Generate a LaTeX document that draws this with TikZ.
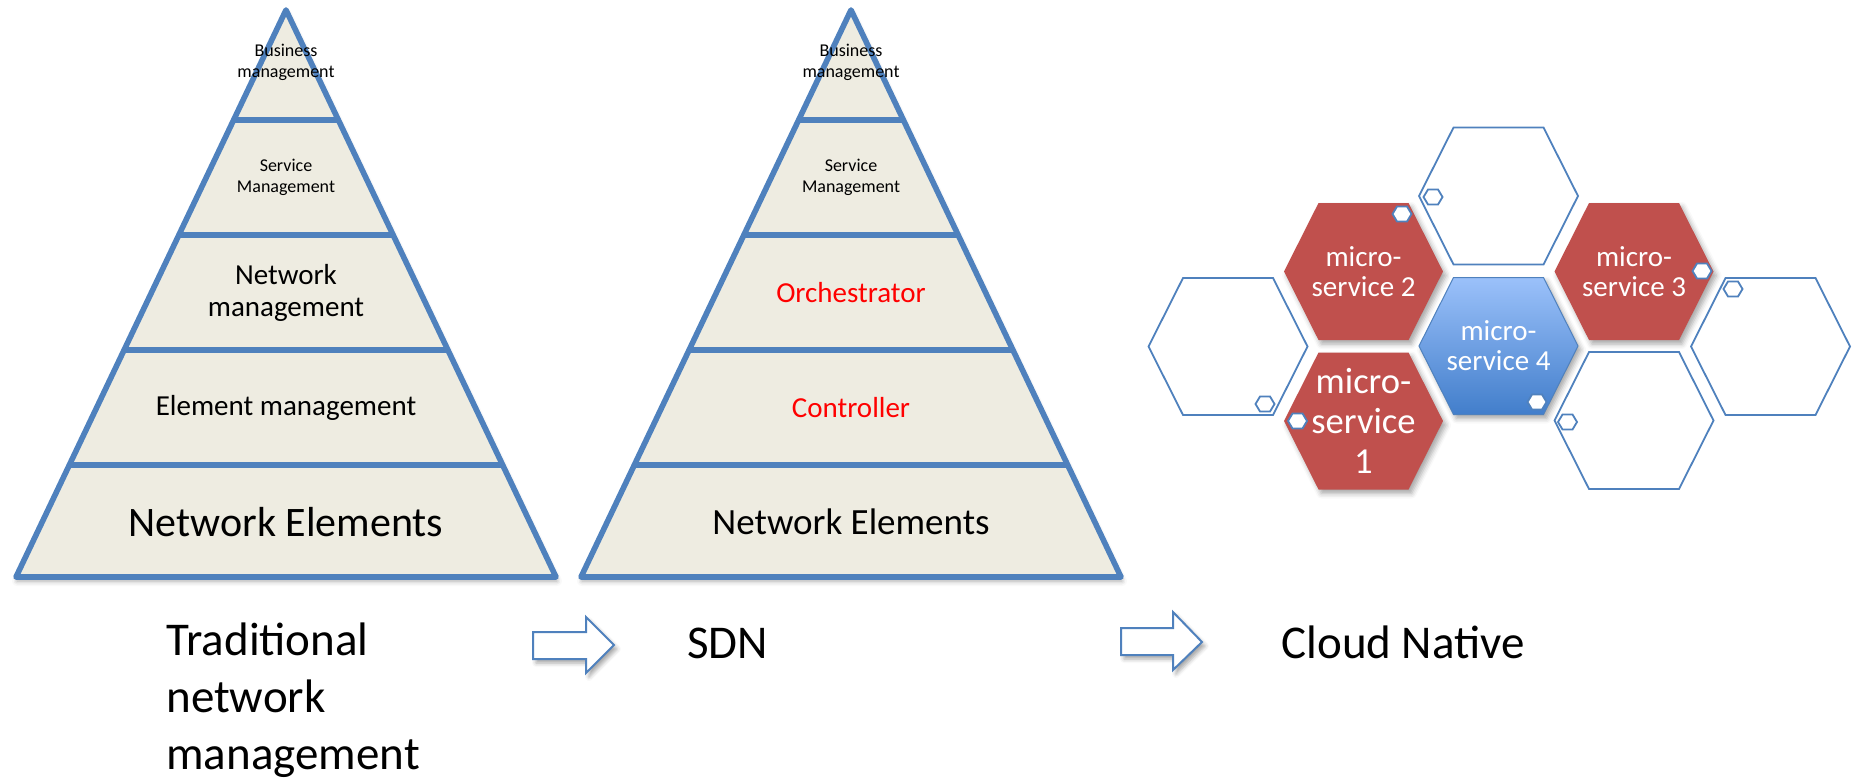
\documentclass[tikz,border=0pt]{standalone}
\usepackage{fontspec}
\setmainfont{Carlito}
\usetikzlibrary{shadows.blur}
\definecolor{pyrfill}{HTML}{EEECE1}
\definecolor{acc}{HTML}{4F81BD}
\definecolor{msred}{HTML}{C0504D}
\definecolor{mstop}{RGB}{155,193,250}
\definecolor{msbot}{RGB}{66,126,203}
\definecolor{txtred}{HTML}{FF0000}
\begin{document}
\begin{tikzpicture}[x=0.5pt,y=-0.5pt,
  pyr/.style={draw=acc,line width=2.8pt,fill=pyrfill,line join=round,
    blur shadow={shadow xshift=0.5pt,shadow yshift=-2pt,shadow blur radius=2.5pt,shadow opacity=35}},
  divider/.style={draw=acc,line width=2.8pt},
  lsmall/.style={font=\fontsize{9}{10.5}\selectfont,align=center,inner sep=0pt},
  lmid/.style={font=\fontsize{14.5}{16}\selectfont,align=center,inner sep=0pt},
  lred/.style={lmid,text=txtred},
  biglbl/.style={font=\fontsize{23.5}{28.5}\selectfont,inner sep=0pt},
  blockarrow/.style={draw=acc,line width=1pt,fill=white,line join=miter,
    blur shadow={shadow xshift=1.5pt,shadow yshift=-2pt,shadow blur radius=2pt,shadow opacity=35}},
  bighex/.style={insert path={++(-79.5,0) -- ++(34.5,-68.5) -- ++(90,0) -- ++(34.5,68.5) -- ++(-34.5,68.5) -- ++(-90,0) -- cycle}},
  smallhex/.style={insert path={++(-9.5,0) -- ++(4.5,-7.5) -- ++(10,0) -- ++(4.5,7.5) -- ++(-4.5,7.5) -- ++(-10,0) -- cycle}},
  outhex/.style={draw=acc,line width=0.9pt,fill=white},
  redhex/.style={fill=msred,
    blur shadow={shadow xshift=1.5pt,shadow yshift=-2pt,shadow blur radius=2.5pt,shadow opacity=35}},
  bluehex/.style={top color=mstop,bottom color=msbot,draw=acc,line width=0.5pt,
    blur shadow={shadow xshift=1.5pt,shadow yshift=-2pt,shadow blur radius=2.5pt,shadow opacity=35}},
  minihex/.style={draw=acc,line width=0.9pt,fill=white},
  mstxt/.style={text=white,font=\fontsize{14.5}{15}\selectfont,align=center,inner sep=0pt},
  mstxtbig/.style={text=white,font=\fontsize{18.3}{20}\selectfont,align=center,inner sep=0pt}
]
\useasboundingbox (0,0) rectangle (1856,778);

% ---------- Pyramid 1: traditional ----------
\path[pyr] (286,10) -- (556,577) -- (16,577) -- cycle;
\draw[divider] (233.6,120) -- (338.4,120);
\draw[divider] (178.9,235) -- (393.1,235);
\draw[divider] (124.1,350) -- (447.9,350);
\draw[divider] (69.3,465) -- (502.7,465);
\node[lsmall] (bm1) at (286,62.5) {Business\\management};
\node[lsmall] (sm1) at (286,177.5) {Service\\Management};
\node[lmid] (nm1) at (286,292.5) {Network\\management};
\node[lmid] (em1) at (286,408) {Element management};
\node[font=\fontsize{21}{24}\selectfont,inner sep=0pt] (ne1) at (286,522) {Network Elements};

% ---------- Pyramid 2: SDN ----------
\begin{scope}[shift={(565,0)}]
\path[pyr] (286,10) -- (556,577) -- (16,577) -- cycle;
\draw[divider] (233.6,120) -- (338.4,120);
\draw[divider] (178.9,235) -- (393.1,235);
\draw[divider] (124.1,350) -- (447.9,350);
\draw[divider] (69.3,465) -- (502.7,465);
\node[lsmall] (bm2) at (286,62.5) {Business\\management};
\node[lsmall] (sm2) at (286,177.5) {Service\\Management};
\node[lred] (orch) at (286,292.5) {Orchestrator};
\node[lred] (ctrl) at (286,407.5) {Controller};
\node[font=\fontsize{18.5}{21}\selectfont,inner sep=0pt] (ne2) at (286,522) {Network Elements};
\end{scope}

% ---------- Bottom labels and arrows ----------
\node[biglbl,anchor=base west,align=left] (trad) at (166,769) {Traditional\\network\\management};
\node[biglbl,anchor=base west] (sdn) at (687,658) {SDN};
\node[biglbl,anchor=base west] (cloud) at (1281,658) {Cloud Native};
\path[blockarrow] (533,632) -- (586,632) -- (586,617) -- (614,645) -- (586,673) -- (586,659) -- (533,659) -- cycle;
\path[blockarrow] (1121,628) -- (1173,628) -- (1173,612) -- (1202,642) -- (1173,670) -- (1173,655) -- (1121,655) -- cycle;

% ---------- Honeycomb ----------
\coordinate (cTop) at (1498.5,196);
\coordinate (cLeft) at (1228,346.5);
\coordinate (cBR) at (1634,420.5);
\coordinate (cRight) at (1770.5,346.5);
\coordinate (cMs2) at (1363.5,271.5);
\coordinate (cMs3) at (1634,271.5);
\coordinate (cMs1) at (1363.5,421);
\coordinate (cMs4) at (1498.5,346);

\path[outhex] (cTop) [bighex];
\path[outhex] (cLeft) [bighex];
\path[outhex] (cBR) [bighex];
\path[outhex] (cRight) [bighex];
\path[redhex] (cMs2) [bighex];
\path[redhex] (cMs3) [bighex];
\path[redhex] (cMs1) [bighex];
\path[bluehex] (cMs4) [bighex];

\node[mstxt] (ms2) at (cMs2) {micro-\\service 2};
\node[mstxt] (ms3) at (cMs3) {micro-\\service 3};
\node[mstxt] (ms4) at (cMs4) {micro-\\service 4};
\node[mstxtbig] (ms1) at (cMs1) {micro-\\service\\1};

% small hexagon markers
\path[minihex] (1433,197) [smallhex];
\path[minihex] (1402,214) [smallhex];
\path[minihex] (1702,271) [smallhex];
\path[minihex] (1733,289) [smallhex];
\path[minihex] (1265,404) [smallhex];
\path[minihex] (1297.5,421) [smallhex];
\path[minihex] (1537,402) [smallhex];
\path[minihex] (1567.5,422) [smallhex];
\end{tikzpicture}
\end{document}
